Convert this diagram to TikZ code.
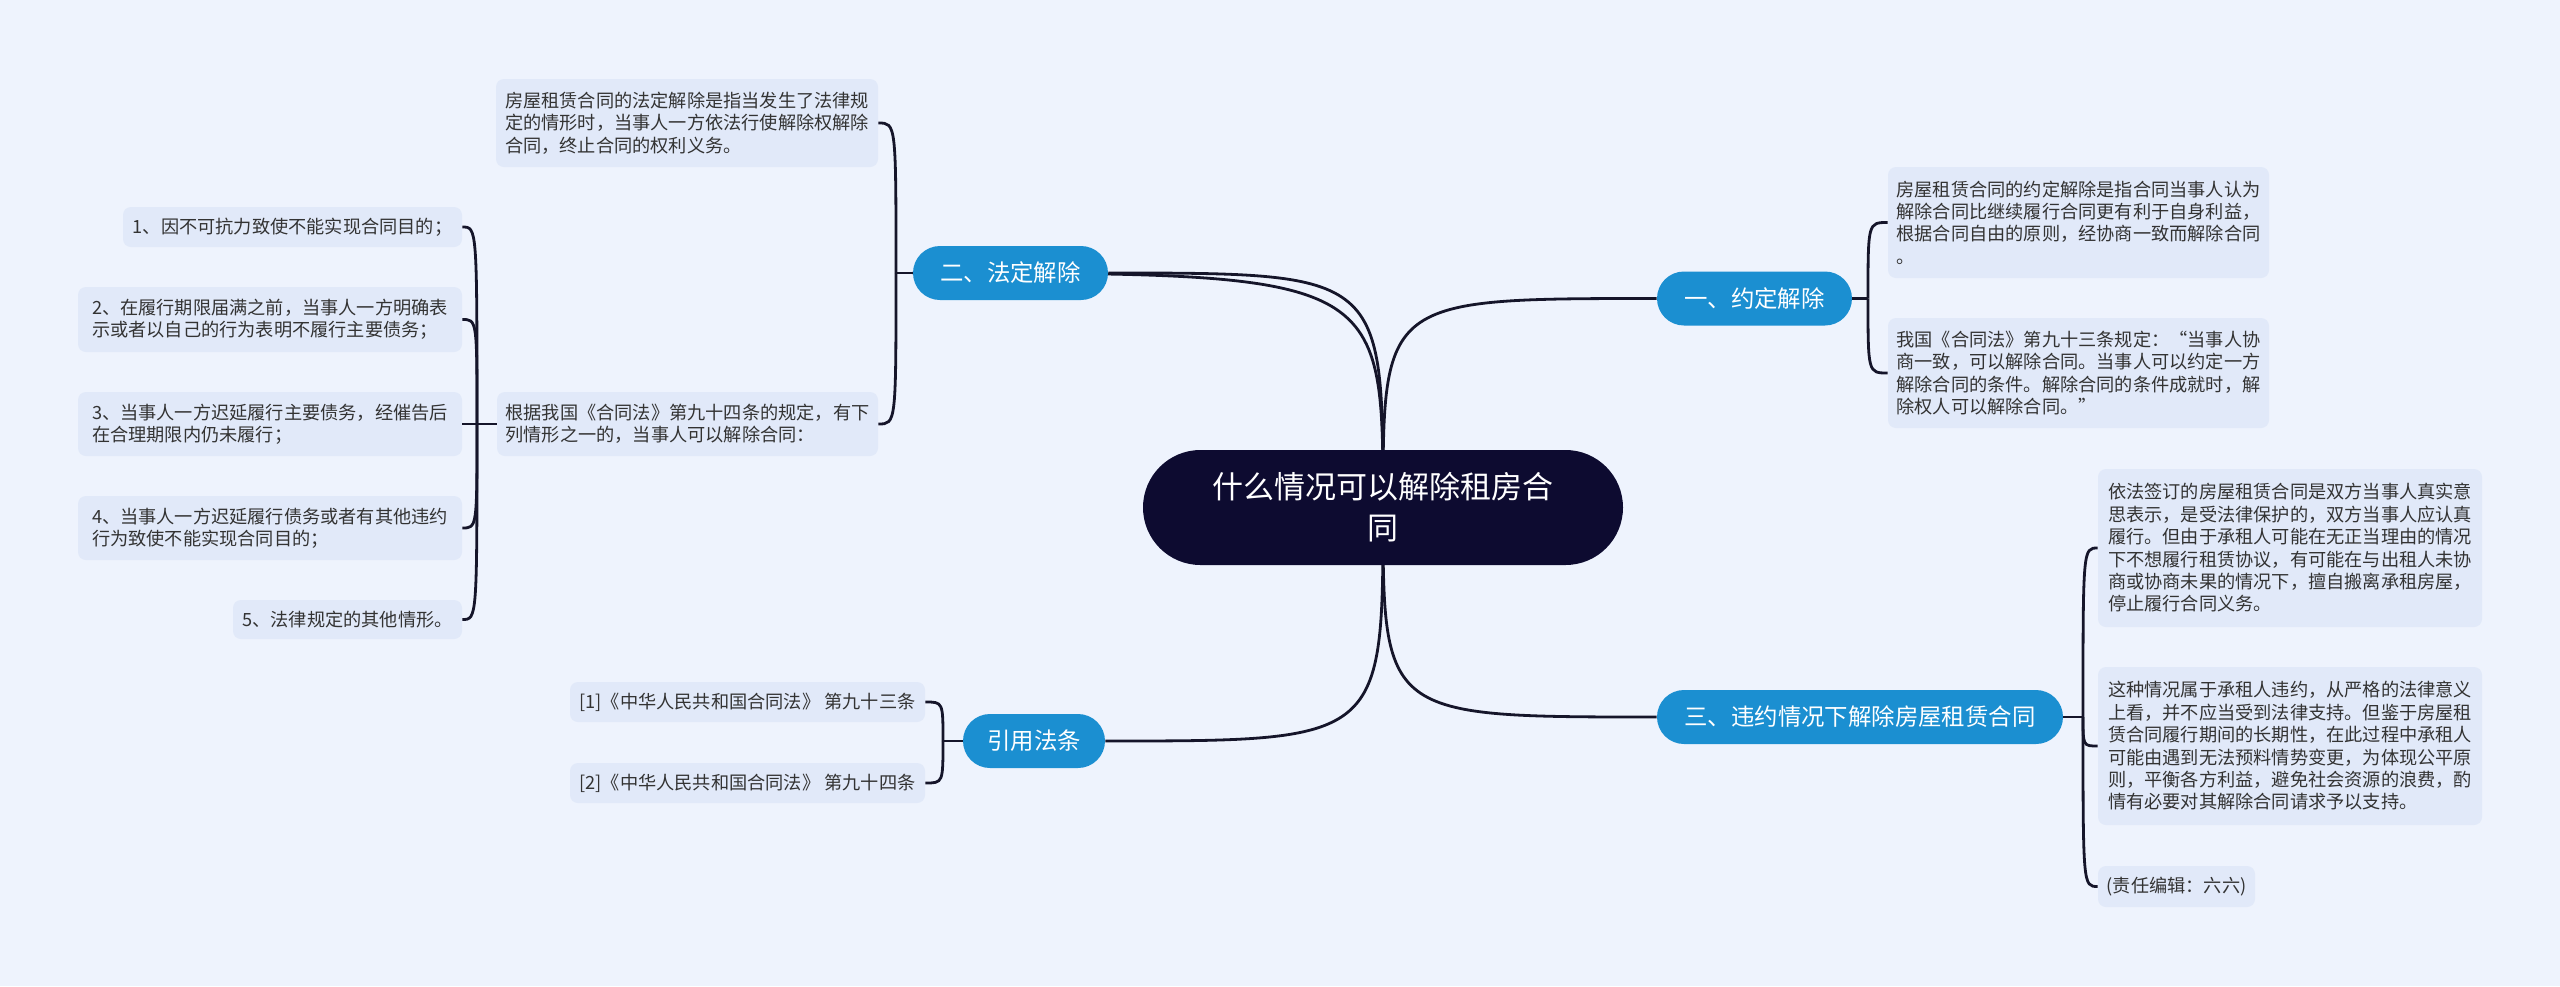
\documentclass[tikz,border=0pt]{standalone}
\usepackage{fontspec}
\setmainfont{Noto Sans CJK SC}
\definecolor{bgc}{HTML}{EEF3FD}
\definecolor{leafc}{HTML}{E1E9F9}
\definecolor{brc}{HTML}{1B8FD1}
\definecolor{rootc}{HTML}{0D0B30}
\definecolor{linec}{HTML}{15152A}
\definecolor{txtc}{HTML}{333333}
\pgfdeclarelayer{bg}\pgfdeclarelayer{lines}\pgfsetlayers{bg,lines,main}
\begin{document}
\begin{tikzpicture}[x=0.5pt,y=-0.5pt,
  leaf/.style={fill=leafc, rounded corners=4pt, inner sep=2pt, align=left, text=txtc,
    font=\fontsize{9.1pt}{11.2pt}\selectfont},
  branch/.style={fill=brc, rounded corners=13.5pt, minimum height=27pt, inner sep=2pt,
    text=white, font=\fontsize{11.7pt}{14pt}\selectfont},
  root/.style={fill=rootc, rounded corners=28.75pt, minimum width=240pt, minimum height=57.5pt,
    inner sep=2pt, text=white, align=center, font=\fontsize{15.5pt}{20.5pt}\selectfont},
  conn/.style={draw=linec, line width=1.4pt}]
\begin{pgfonlayer}{bg}
\fill[bgc] (0,0) rectangle (2560,986);
\end{pgfonlayer}
\useasboundingbox (0,0) rectangle (2560,986);

% root
\node[root] (c) at (1383,507.5) {什么情况可以解除租房合\\同};

% branches
\node[branch, minimum width=97.5pt] (b2) at (1010.5,273) {二、法定解除};
\node[branch, minimum width=97.5pt] (b1) at (1754.5,298.5) {一、约定解除};
\node[branch, minimum width=203pt] (b3) at (1860,717) {三、违约情况下解除房屋租赁合同};
\node[branch, minimum width=71pt] (b4) at (1034,741) {引用法条};

% left leaves
\node[leaf, minimum width=191pt, minimum height=44pt] (l0) at (687,123)
  {房屋租赁合同的法定解除是指当发生了法律规\\定的情形时，当事人一方依法行使解除权解除\\合同，终止合同的权利义务。};
\node[leaf, minimum width=190.5pt, minimum height=32pt] (l1) at (687.5,424)
  {根据我国《合同法》第九十四条的规定，有下\\列情形之一的，当事人可以解除合同：};
\node[leaf, minimum width=169.5pt, minimum height=20pt] (i1) at (292.5,227)
  {1、因不可抗力致使不能实现合同目的；};
\node[leaf, minimum width=192pt, minimum height=32.5pt] (i2) at (270,319.5)
  {2、在履行期限届满之前，当事人一方明确表\\示或者以自己的行为表明不履行主要债务；};
\node[leaf, minimum width=192pt, minimum height=32pt] (i3) at (270,424)
  {3、当事人一方迟延履行主要债务，经催告后\\在合理期限内仍未履行；};
\node[leaf, minimum width=192pt, minimum height=32pt] (i4) at (270,528)
  {4、当事人一方迟延履行债务或者有其他违约\\行为致使不能实现合同目的；};
\node[leaf, minimum width=114.5pt, minimum height=19.5pt] (i5) at (347.5,619.5)
  {5、法律规定的其他情形。};
\node[leaf, minimum width=177.5pt, minimum height=20pt] (q1) at (747.5,702)
  {[1]《中华人民共和国合同法》 第九十三条};
\node[leaf, minimum width=177.5pt, minimum height=20pt] (q2) at (747.5,783)
  {[2]《中华人民共和国合同法》 第九十四条};

% right leaves
\node[leaf, minimum width=190.5pt, minimum height=55.5pt] (r0) at (2078.5,222.5)
  {房屋租赁合同的约定解除是指合同当事人认为\\解除合同比继续履行合同更有利于自身利益，\\根据合同自由的原则，经协商一致而解除合同\\。};
\node[leaf, minimum width=190.5pt, minimum height=55pt] (r1) at (2078.5,373)
  {我国《合同法》第九十三条规定：“当事人协\\商一致，可以解除合同。当事人可以约定一方\\解除合同的条件。解除合同的条件成就时，解\\除权人可以解除合同。”};
\node[leaf, minimum width=192pt, minimum height=79pt] (r2) at (2290,548)
  {依法签订的房屋租赁合同是双方当事人真实意\\思表示，是受法律保护的，双方当事人应认真\\履行。但由于承租人可能在无正当理由的情况\\下不想履行租赁协议，有可能在与出租人未协\\商或协商未果的情况下，擅自搬离承租房屋，\\停止履行合同义务。};
\node[leaf, minimum width=192pt, minimum height=79pt] (r3) at (2290,746)
  {这种情况属于承租人违约，从严格的法律意义\\上看，并不应当受到法律支持。但鉴于房屋租\\赁合同履行期间的长期性，在此过程中承租人\\可能由遇到无法预料情势变更，为体现公平原\\则，平衡各方利益，避免社会资源的浪费，酌\\情有必要对其解除合同请求予以支持。};
\node[leaf, minimum width=78.5pt, minimum height=20.5pt] (r4) at (2176.5,886.5)
  {(责任编辑：六六)};

% junction coordinates
\coordinate (j2) at (896,273);
\coordinate (ji) at (477,424);
\coordinate (j4) at (943,741);
\coordinate (j1) at (1868,298.5);
\coordinate (j3) at (2083,717);

\begin{pgfonlayer}{lines}
% main curves
\foreach \b in {b1,b2,b3} {
  \draw[conn] (c.center) .. controls (c.center |- \b.west) .. (\b.west);
}
\draw[conn] (c.center) .. controls (c.center |- b2.east) .. (b2.east);
\draw[conn] (c.center) .. controls (c.center |- b4.east) .. (b4.east);
\end{pgfonlayer}

% sub brackets
\draw[conn] (b2.west) -- (j2);
\foreach \n in {l0,l1} {
  \draw[conn] (j2) .. controls (j2 |- \n.east) .. (\n.east);
}
\draw[conn] (l1.west) -- (ji);
\foreach \n in {i1,i2,i3,i4,i5} {
  \draw[conn] (ji) .. controls (ji |- \n.east) .. (\n.east);
}
\draw[conn] (b4.west) -- (j4);
\foreach \n in {q1,q2} {
  \draw[conn] (j4) .. controls (j4 |- \n.east) .. (\n.east);
}
\draw[conn] (b1.east) -- (j1);
\foreach \n in {r0,r1} {
  \draw[conn] (j1) .. controls (j1 |- \n.west) .. (\n.west);
}
\draw[conn] (b3.east) -- (j3);
\foreach \n in {r2,r3,r4} {
  \draw[conn] (j3) .. controls (j3 |- \n.west) .. (\n.west);
}
\end{tikzpicture}
\end{document}
